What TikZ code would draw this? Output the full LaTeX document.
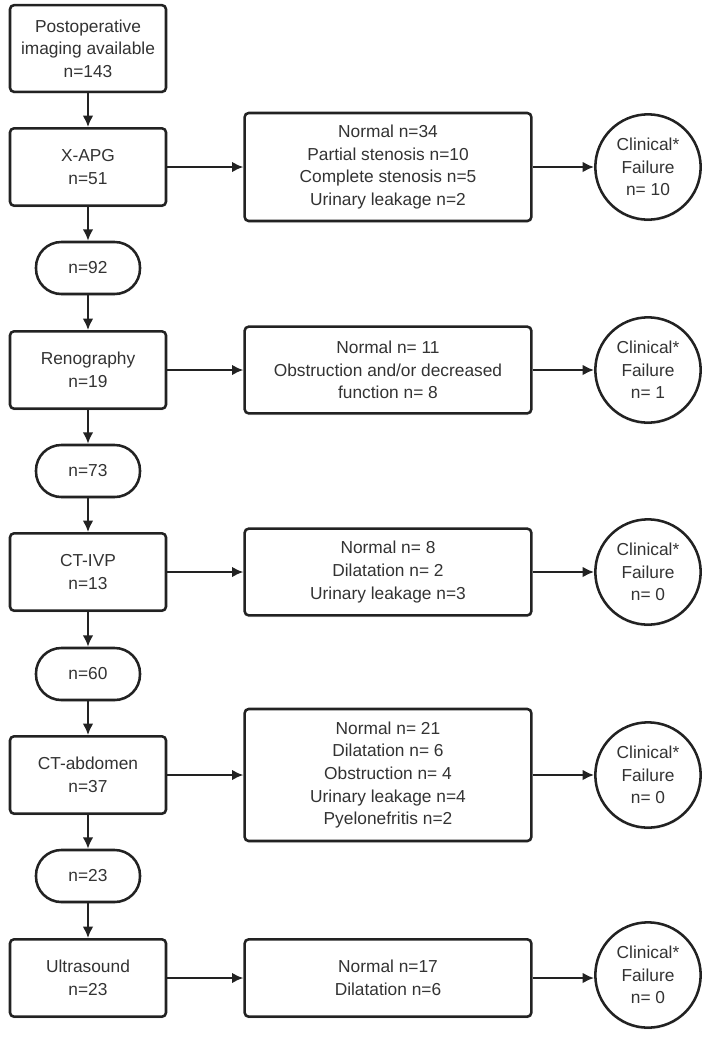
\documentclass[tikz,border=0pt]{standalone}
\usepackage{fontspec}
\setmainfont{Liberation Sans}
\usetikzlibrary{arrows.meta,shadows}
\definecolor{ink}{HTML}{222222}
\definecolor{txt}{HTML}{333333}
\begin{document}
\begin{tikzpicture}[x=.75pt,y=-.75pt,>={Latex[length=8.5pt,width=8pt]},
  every node/.style={font=\fontsize{13}{17}\selectfont,text=txt,align=center,
    draw=ink,line width=1.9pt,fill=white,inner sep=0pt,
    drop shadow={opacity=.12,shadow xshift=0pt,shadow yshift=-1.5pt}},
  stepbox/.style={rectangle,rounded corners=3pt,minimum width=117pt,minimum height=58pt},
  resbox/.style={rectangle,rounded corners=3pt,minimum width=215pt},
  countpill/.style={rectangle,rounded corners=19pt,minimum width=78pt,minimum height=39pt},
  failcirc/.style={circle,minimum size=79pt},
  link/.style={->,draw=ink,line width=1.8pt}]
\useasboundingbox (0,0) rectangle (709,1040);
% left column
\node[stepbox,minimum height=65pt](start) at (88,48.5){Postoperative\\imaging available\\n=143};
\node[stepbox](xapg) at (88,167){X-APG\\n=51};
\node[countpill](n92) at (88,268){n=92};
\node[stepbox](reno) at (88,370){Renography\\n=19};
\node[countpill](n73) at (88,471){n=73};
\node[stepbox](ctivp) at (88,572){CT-IVP\\n=13};
\node[countpill](n60) at (88,674){n=60};
\node[stepbox](ctabd) at (88,775){CT-abdomen\\n=37};
\node[countpill](n23) at (88,876){n=23};
\node[stepbox](us) at (88,978){Ultrasound\\n=23};
% findings
\node[resbox,minimum height=81pt](res1) at (388,167){Normal n=34\\Partial stenosis n=10\\Complete stenosis n=5\\Urinary leakage n=2};
\node[resbox,minimum height=65pt](res2) at (388,370){Normal n= 11\\Obstruction and/or decreased\\function n= 8};
\node[resbox,minimum height=65pt](res3) at (388,572){Normal n= 8\\Dilatation n= 2\\Urinary leakage n=3};
\node[resbox,minimum height=99pt](res4) at (388,775){Normal n= 21\\Dilatation n= 6\\Obstruction n= 4\\Urinary leakage n=4\\Pyelonefritis n=2};
\node[resbox,minimum height=58pt](res5) at (388,978){Normal n=17\\Dilatation n=6};
% clinical failure
\node[failcirc](fail1) at (648,167){Clinical*\\Failure\\n= 10};
\node[failcirc](fail2) at (648,370){Clinical*\\Failure\\n= 1};
\node[failcirc](fail3) at (648,572){Clinical*\\Failure\\n= 0};
\node[failcirc](fail4) at (648,775){Clinical*\\Failure\\n= 0};
\node[failcirc](fail5) at (648,975){Clinical*\\Failure\\n= 0};
% arrows
\draw[link](start)--(xapg);
\draw[link](xapg)--(n92);
\draw[link](n92)--(reno);
\draw[link](reno)--(n73);
\draw[link](n73)--(ctivp);
\draw[link](ctivp)--(n60);
\draw[link](n60)--(ctabd);
\draw[link](ctabd)--(n23);
\draw[link](n23)--(us);
\draw[link](xapg)--(res1);
\draw[link](reno)--(res2);
\draw[link](ctivp)--(res3);
\draw[link](ctabd)--(res4);
\draw[link](us)--(res5);
\draw[link](res1)--(fail1);
\draw[link](res2)--(fail2);
\draw[link](res3)--(fail3);
\draw[link](res4)--(fail4);
\draw[link](res5.east)--(fail5.west|-res5.east);
\end{tikzpicture}
\end{document}
